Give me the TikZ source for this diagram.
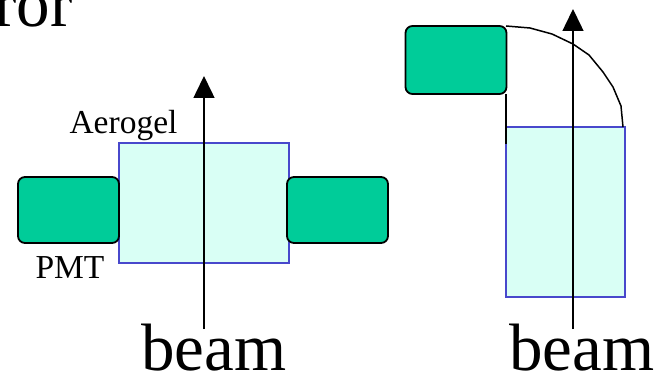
\documentclass[tikz,border=0pt]{standalone}
\usepackage{fontspec}
\setmainfont{Liberation Serif}
\usetikzlibrary{arrows.meta}
\definecolor{gelfill}{HTML}{D9FFF5}
\definecolor{gelline}{HTML}{4848CC}
\definecolor{pmtfill}{HTML}{00CC99}
\tikzstyle{gel} = [draw=gelline, fill=gelfill, line width=1.2pt, inner sep=0pt]
\tikzstyle{pmt} = [draw=black, fill=pmtfill, line width=1.8pt, rounded corners=7pt, inner sep=0pt, minimum width=101pt, minimum height=66pt]
\tikzstyle{big} = [font=\fontsize{67}{70}\selectfont, inner sep=0pt, anchor=base]
\tikzstyle{small} = [font=\fontsize{33.5}{36}\selectfont, inner sep=0pt, anchor=base]
\tikzstyle{beamline} = [line width=1.5pt, -{Triangle[width=21pt,length=22pt]}]

\begin{document}
\begin{tikzpicture}[x=1pt,y=-1pt]
	  \useasboundingbox (0,0) rectangle (656,374);
	  \clip (0,0) rectangle (656,374);

	  \node (title) at (73,27) [big, anchor=base east] {ror};

	  % left view
	  \node (gelA) at (204,203) [gel, minimum width=170pt, minimum height=120pt] {};
	  \node (pmtA) at (68.5,210) [pmt] {};
	  \node (pmtB) at (337.5,210) [pmt] {};
	  \node (labelgel) at (123.5,134) [small] {Aerogel};
	  \node (labelpmt) at (70,278) [small] {PMT};
	  \node (beamA) at (214,370) [big] {beam};
	  \coordinate (startA) at (204,329);
	  \coordinate (endA) at (204,76);
	  \draw [beamline] (startA) to (endA);

	  % right view
	  \node (gelB) at (565.5,212) [gel, minimum width=119pt, minimum height=170pt] {};
	  \node (pmtC) at (456,60) [pmt, minimum height=68pt] {};
	  \node (beamB) at (582,370) [big] {beam};
	  \coordinate (startB) at (573,329);
	  \coordinate (endB) at (573,9);
	  \coordinate (guideA) at (506,26);
	  \coordinate (guideB) at (623,127);
	  \coordinate (guideC) at (506,94);
	  \coordinate (guideD) at (506,144);
	  \draw [beamline] (startB) to (endB);
	  \draw [line width=1.5pt] (guideA) -- (530,28) -- (552,34) -- (573,44) -- (589,55) -- (603,72) -- (613,87) -- (621,106) -- (guideB);
	  \draw [line width=1.5pt] (guideC) to (guideD);
\end{tikzpicture}
\end{document}
